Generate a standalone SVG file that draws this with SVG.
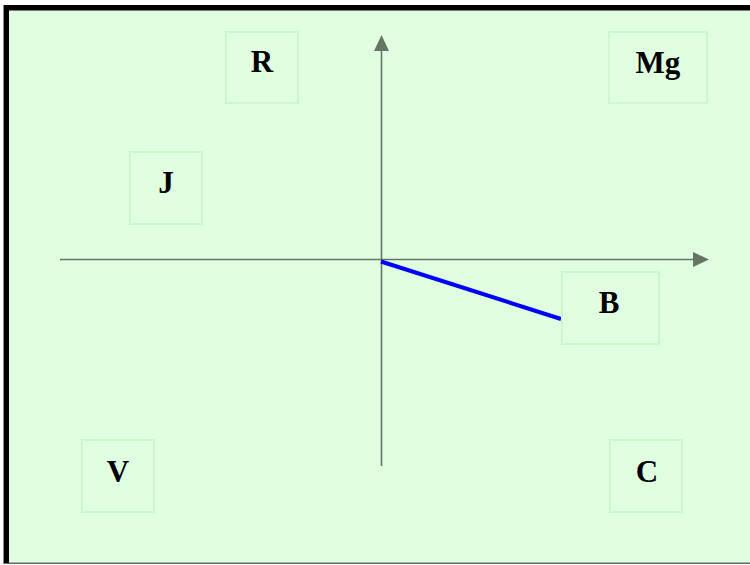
<svg xmlns="http://www.w3.org/2000/svg" width="750" height="565" viewBox="0 0 750 565">
<style>
.box{fill:none;stroke:#cdf8cd;stroke-width:2}
.lbl{font-family:"Liberation Serif","Times New Roman",serif;font-weight:bold;font-size:31px;fill:#000;text-anchor:middle}
.axis{stroke:#667466;stroke-width:1.6;fill:none}
</style>
<defs>
<marker id="arr" markerWidth="16" markerHeight="15" refX="0" refY="7.5" orient="auto" markerUnits="userSpaceOnUse">
<path d="M0,0 L16,7.5 L0,15 Z" fill="#667466"/>
</marker>
</defs>
<rect x="0" y="0" width="750" height="565" fill="#ffffff"/>
<rect x="3" y="5" width="747" height="559" fill="#e0ffe0"/>
<rect x="3" y="562.5" width="747" height="1.5" fill="#6a6a6a"/>
<rect x="3" y="5" width="1.2" height="559" fill="#8a8a8a"/>
<rect x="4" y="5" width="746" height="5.5" fill="#000"/>
<rect x="4" y="5" width="5" height="558" fill="#000"/>
<g id="connectors">
<line class="axis" x1="60" y1="259.5" x2="693" y2="259.5" marker-end="url(#arr)"/>
<line class="axis" x1="381.5" y1="466" x2="381.5" y2="51" marker-end="url(#arr)"/>
<line x1="381" y1="261.5" x2="561" y2="319" stroke="#0000ff" stroke-width="4"/>
</g>
<g id="R"><rect class="box" x="226" y="32" width="72" height="71"/><text class="lbl" x="262" y="72">R</text></g>
<g id="Mg"><rect class="box" x="609" y="32" width="98" height="71"/><text class="lbl" x="658" y="73">Mg</text></g>
<g id="J"><rect class="box" x="130" y="152" width="72" height="72"/><text class="lbl" x="166" y="193">J</text></g>
<g id="B"><rect class="box" x="562" y="272" width="97" height="72"/><text class="lbl" x="609" y="313">B</text></g>
<g id="V"><rect class="box" x="82" y="440" width="72" height="72"/><text class="lbl" x="118" y="482">V</text></g>
<g id="C"><rect class="box" x="610" y="440" width="72" height="72"/><text class="lbl" x="647" y="482">C</text></g>
</svg>
